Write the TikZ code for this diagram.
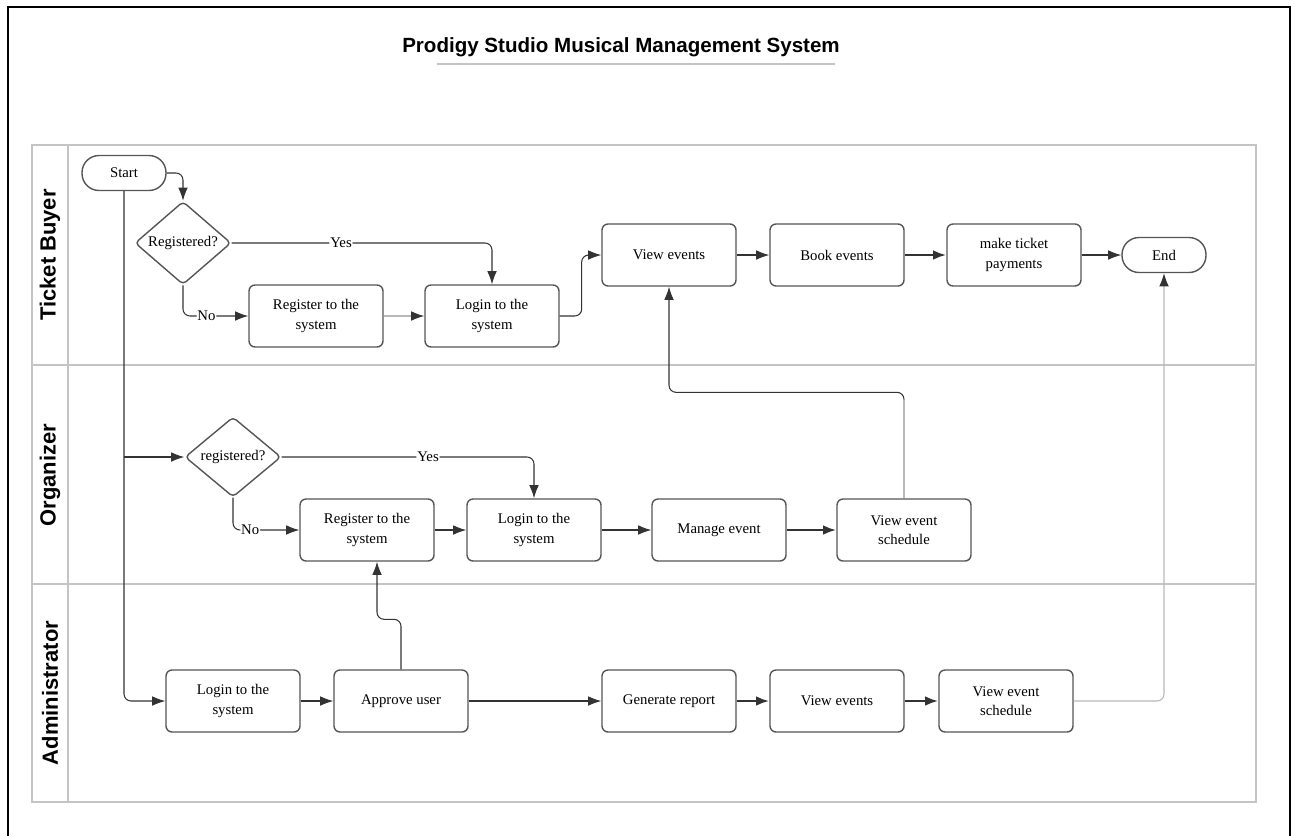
\documentclass[tikz,border=0pt]{standalone}
\usepackage{fontspec}
\setmainfont{Liberation Serif}
\newfontfamily\headfont{Liberation Sans}
\usetikzlibrary{positioning,arrows.meta,shapes.geometric}
\definecolor{lanegray}{HTML}{C4C4C4}
\definecolor{boxgray}{HTML}{555555}
\definecolor{linegray}{HTML}{333333}

\begin{document}
\begin{tikzpicture}[x=0.02cm,y=-0.02cm,
    every node/.style={font=\fontsize{8.4}{11}\selectfont},
    proc/.style={draw=boxgray,line width=0.8pt,rounded corners=0.12cm,minimum width=2.68cm,minimum height=1.24cm,align=center,inner sep=1pt},
    decide/.style={draw=boxgray,line width=0.8pt,diamond,rounded corners=0.08cm,minimum width=1.92cm,minimum height=1.6cm,inner sep=0pt},
    term/.style={draw=boxgray,line width=0.8pt,rounded corners=0.34cm,minimum width=1.68cm,minimum height=0.7cm},
    lane/.style={font=\headfont\fontsize{12.5}{14}\selectfont\bfseries,rotate=90},
    arr/.style={draw=linegray,line width=0.6pt,rounded corners=0.14cm,-{Latex[length=7.5pt,width=5.5pt,color=linegray]}},
    bold/.style={line width=1.4pt},
    faint/.style={draw=gray!55},
    lbl/.style={fill=white,inner sep=0.5pt}]
  \useasboundingbox (0,0) rectangle (1295,836);
  % frame and swimlanes
  \draw[line width=1.2pt] (8,836) -- (8,7) -- (1290,7) -- (1290,836);
  \node[font=\headfont\fontsize{11.7}{13}\selectfont\bfseries] (title) at (621,47) {Prodigy Studio Musical Management System};
  \draw[lanegray,line width=1pt] (437,64) -- (835,64);
  \draw[lanegray,line width=1.1pt] (32,145) rectangle (1256,802);
  \draw[lanegray,line width=1.1pt] (68,145) -- (68,802);
  \draw[lanegray,line width=1.1pt] (32,365) -- (1256,365);
  \draw[lanegray,line width=1.1pt] (32,584) -- (1256,584);
  \node[lane] (tbuyer) at (50,255) {Ticket Buyer};
  \node[lane] (organizer) at (50,475) {Organizer};
  \node[lane] (admin) at (50,693) {Administrator};

  % ticket buyer
  \node[term] (start) at (124,173) {Start};
  \node[decide] (regq1) at (183,243) {Registered?};
  \node[proc] (register1) at (316,316) {Register to the\\system};
  \node[proc] (login1) at (492,316) {Login to the\\system};
  \node[proc] (view1) at (669,255) {View events};
  \node[proc] (book1) at (837,255) {Book events};
  \node[proc] (pay1) at (1014,255) {make ticket\\payments};
  \node[term] (end) at (1164,255) {End};

  % organizer
  \node[decide] (regq2) at (233,457) {registered?};
  \node[proc] (register2) at (367,530) {Register to the\\system};
  \node[proc] (login2) at (534,530) {Login to the\\system};
  \node[proc] (manage2) at (719,530) {Manage event};
  \node[proc] (sched2) at (904,530) {View event\\schedule};

  % administrator
  \node[proc] (login3) at (233,701) {Login to the\\system};
  \node[proc] (approve3) at (401,701) {Approve user};
  \node[proc] (report3) at (669,701) {Generate report};
  \node[proc] (view3) at (837,701) {View events};
  \node[proc] (sched3) at (1006,701) {View event\\schedule};

  \coordinate (fork) at (start.south |- regq2.west);
  \coordinate (bend2) at ([yshift=2.12cm]sched2.north);

  % connectors
  \draw[arr] (start.east) -| (regq1.north);
  \draw[arr] (regq1.east) -| node[lbl,pos=0.21] {Yes} (login1.north);
  \draw[arr] (regq1.south) |- node[lbl,pos=0.68] {No} (register1.west);
  \draw[arr,faint] (register1) -- (login1);
  \draw[arr] (login1.east) -- ++(22,0) |- (view1.west);
  \draw[arr] (view1) -- (book1);
  \draw[arr,bold] (book1) -- (pay1);
  \draw[arr] (pay1) -- (end);

  \draw[arr] (start.south) |- (login3.west);
  \draw[arr] (fork) -- (regq2.west);
  \draw[arr] (regq2.east) -| node[lbl,pos=0.29] {Yes} (login2.north);
  \draw[arr] (regq2.south) |- node[lbl,pos=0.63] {No} (register2.west);
  \draw[arr] (register2) -- (login2);
  \draw[arr] (login2) -- (manage2);
  \draw[arr,bold] (manage2) -- (sched2);
  \draw[faint,line width=0.6pt] (sched2.north) -- ([yshift=-0.14cm]bend2);
  \draw[arr] ([yshift=-0.14cm]bend2) -- (bend2) -| (view1.south);

  \draw[arr] (login3) -- (approve3);
  \draw[arr] (approve3.north) -- ++(0,-50) -| ([xshift=0.2cm]register2.south);
  \draw[arr] (approve3) -- (report3);
  \draw[arr,bold] (report3) -- (view3);
  \draw[arr,bold] (view3) -- (sched3);
  \draw[arr,faint] (sched3.east) -| (end.south);
\end{tikzpicture}
\end{document}
